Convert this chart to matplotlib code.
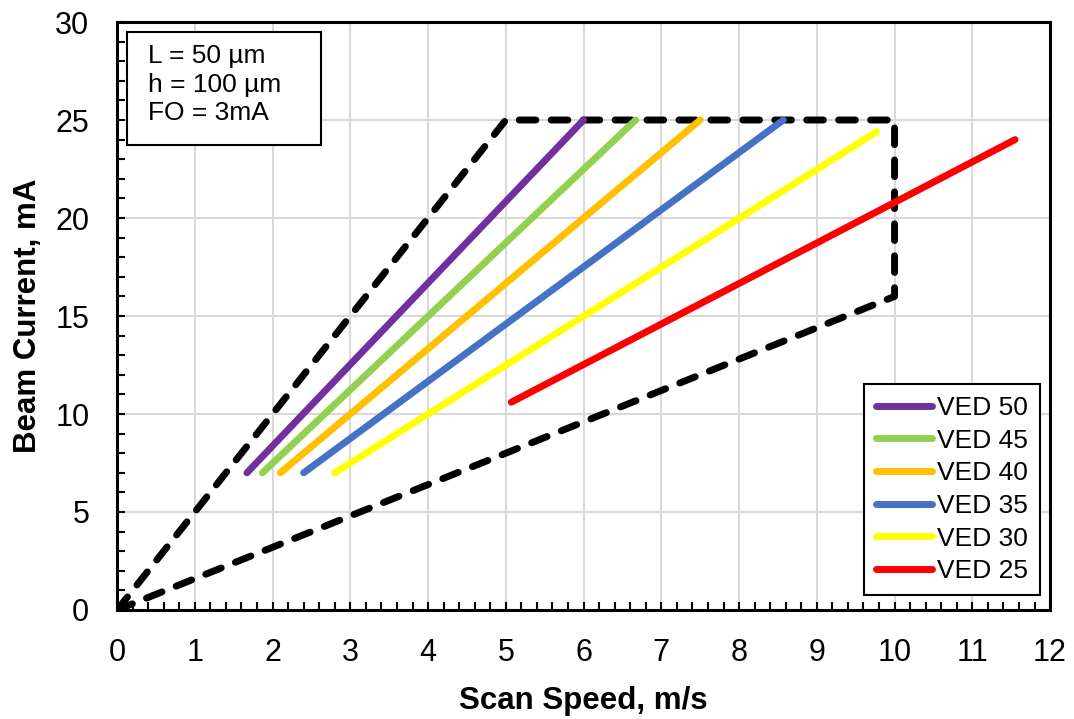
import matplotlib
matplotlib.use('Agg')
import matplotlib.pyplot as plt
from matplotlib.patches import Rectangle
from matplotlib.ticker import MultipleLocator

plt.rcParams['font.family'] = ['Liberation Sans', 'DejaVu Sans']

# Process window boundary (dashed)
window_x = [0, 5, 10, 10, 0]
window_y = [0, 25, 25, 16, 0]

# VED lines: label, colour, x start/end, y start/end
ved_labels = ['VED 50', 'VED 45', 'VED 40', 'VED 35', 'VED 30', 'VED 25']
ved_colors = ['#7030A0', '#92D050', '#FFC000', '#4472C4', '#FFFF00', '#FF0000']
ved_x = [[1.67, 6.0], [1.87, 6.67], [2.1, 7.5], [2.4, 8.57], [2.8, 9.77], [5.07, 11.55]]
ved_y = [[7, 25], [7, 25], [7, 25], [7, 25], [7, 24.4], [10.6, 24.0]]

fig = plt.figure(figsize=(10.74, 7.19), dpi=100)
ax = fig.add_axes([0.109, 0.1516, 0.8687, 0.8178])

ax.plot(window_x, window_y, color='black', lw=5, ls=(0, (2.4, 2.2)),
        dash_capstyle='round', dash_joinstyle='round', zorder=3)

for lab, col, xs, ys in zip(ved_labels, ved_colors, ved_x, ved_y):
    ax.plot(xs, ys, color=col, lw=5, solid_capstyle='round', label=lab, zorder=4)

ax.set_xlim(0, 12)
ax.set_ylim(0, 30)
ax.xaxis.set_major_locator(MultipleLocator(1))
ax.xaxis.set_minor_locator(MultipleLocator(0.2))
ax.yaxis.set_major_locator(MultipleLocator(5))
ax.yaxis.set_minor_locator(MultipleLocator(1))
ax.grid(True, which='major', color='#d9d9d9', lw=1.5, zorder=0)
ax.set_axisbelow(True)
ax.tick_params(which='both', direction='in', width=1.5, length=6, labelsize=22, pad=20)
for s in ax.spines.values():
    s.set_linewidth(2.2)

ax.set_xlabel('Scan Speed, m/s', fontsize=22.5, fontweight='bold', labelpad=13)
ax.set_ylabel('Beam Current, mA', fontsize=22.5, fontweight='bold', labelpad=9)

# parameter box, top left
ax.add_patch(Rectangle((0.0107, 0.791), 0.208, 0.192, transform=ax.transAxes,
                       facecolor='white', edgecolor='black', lw=1.5, zorder=5))
ax.text(0.033, 0.962, 'L = 50 µm\nh = 100 µm\nFO = 3mA', transform=ax.transAxes,
        fontsize=19, va='top', ha='left', linespacing=1.22, zorder=6)

leg = ax.legend(loc='lower right', bbox_to_anchor=(0.989, 0.025), fontsize=19,
                frameon=True, fancybox=False, edgecolor='black', framealpha=1,
                handlelength=2.1, handletextpad=0.2, labelspacing=0.33,
                borderpad=0.45, borderaxespad=0)
leg.get_frame().set_linewidth(1.5)

fig.savefig('out.png', dpi=100)
